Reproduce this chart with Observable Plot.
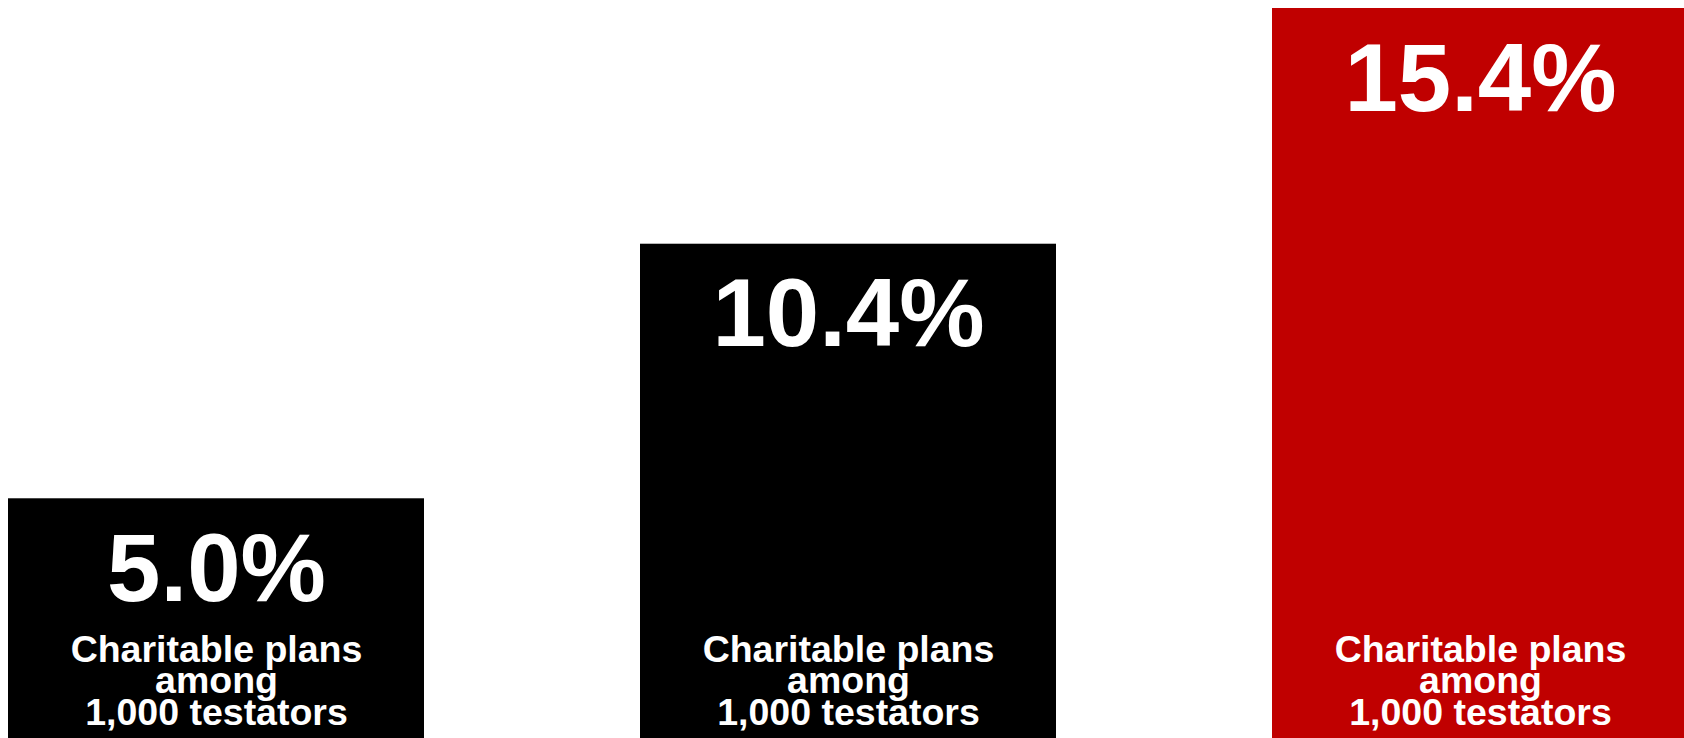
<!DOCTYPE html>
<html>
<head>
<meta charset="utf-8">
<script src="https://cdn.jsdelivr.net/npm/d3@7"></script>
<script src="https://cdn.jsdelivr.net/npm/@observablehq/plot@0.6"></script>
<style>
  html, body { margin: 0; padding: 0; background: #fff; overflow: hidden; }
  #chart svg { display: block; }
</style>
</head>
<body>
<div id="chart"></div>
<script>
const categories = ["Group 1", "Group 2", "Group 3"];
const values = [5.0, 10.4, 15.4];
const barColors = ["#000000", "#000000", "#c00000"];
const subLabels = ["Charitable plans\namong\n1,000 testators", "Charitable plans\namong\n1,000 testators", "Charitable plans\namong\n1,000 testators"];

const data = categories.map((c, i) => ({category: c, value: values[i], color: barColors[i], sub: subLabels[i]}));
const font = "'Liberation Sans', Arial, Helvetica, sans-serif";

const chart = Plot.plot({
  width: 1684,
  height: 738,
  marginTop: 8,
  marginBottom: 4,
  marginLeft: 0,
  marginRight: 0,
  style: {background: "#fff", fontFamily: font},
  x: {domain: categories, range: [8, 1688], paddingInner: 0.3418, paddingOuter: 0, axis: null},
  y: {domain: [0, 15.4], axis: null},
  marks: [
    Plot.barY(data, {x: "category", y: "value", fill: "color", insetBottom: -4}),
    Plot.text(data, {
      x: "category", y: "value", text: d => d.value.toFixed(1) + "%",
      fill: "#fff", fontSize: 96, fontWeight: "bold", lineAnchor: "top", dy: 34
    }),
    Plot.text(data, {
      x: "category", frameAnchor: "bottom", text: "sub",
      fill: "#fff", fontSize: 37.5, fontWeight: "bold", lineHeight: 0.84, lineAnchor: "bottom", dy: -10
    })
  ]
});
document.getElementById("chart").appendChild(chart);
</script>
</body>
</html>
